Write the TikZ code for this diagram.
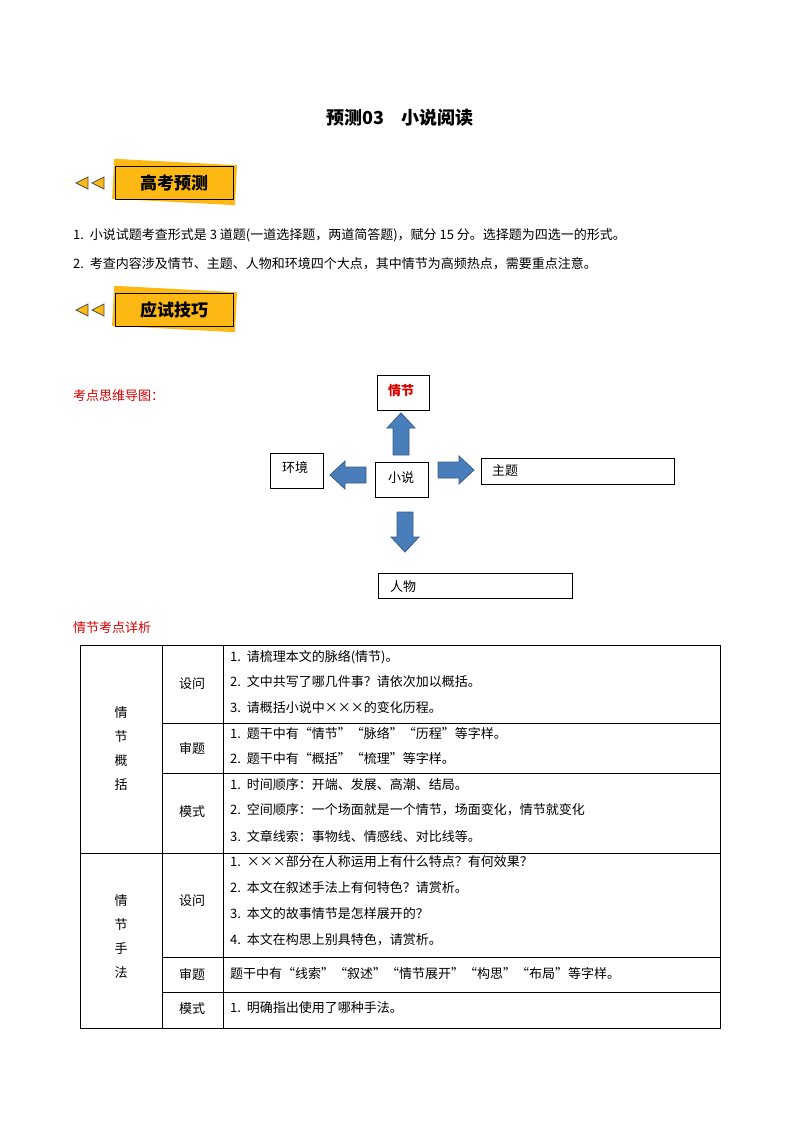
\documentclass[tikz,border=0pt]{standalone}
\usepackage{fontspec}
\setmainfont{Liberation Serif}
\newfontfamily\cjk{Noto Sans CJK SC}
\definecolor{bancol}{HTML}{FDB813}
\definecolor{arr}{HTML}{4A7EBB}
\definecolor{arrd}{HTML}{385D8A}
\newcommand{\blkarrow}[5]{% name x y angle length
  \begin{scope}[shift={(#2,#3)},rotate=#4]
  \coordinate (#1) at (0,0);
  \filldraw[fill=arr,draw=arrd,thick] (-#5/2,-8) -- (#5/2-15,-8) -- (#5/2-15,-14) -- (#5/2,0) -- (#5/2-15,14) -- (#5/2-15,8) -- (-#5/2,8) -- cycle;
  \end{scope}}
\begin{document}
\begin{tikzpicture}[x=1pt,y=-1pt,
  every node/.style={font=\cjk\fontsize{13}{15}\selectfont},
  banfont/.style={font=\cjk\bfseries\fontsize{17}{19}\selectfont},
  txt/.style={anchor=west,inner sep=0},
  red/.style={text=red!85!black}]
\useasboundingbox (0,0) rectangle (800,1132);
% title
\node[font=\cjk\bfseries\fontsize{18}{20}\selectfont] (title) at (400,118) {预测03\quad 小说阅读};
% banners
\foreach \y/\t/\n in {183/高考预测/b1,310/应试技巧/b2}{
  \fill[bancol,rotate around={-3:(175,\y)}] (113,\y-21) rectangle (236,\y+19);
  \node[draw,thick,fill=bancol,minimum width=118pt,minimum height=33pt,banfont] (\n) at (174,\y) {\t};
  \filldraw[fill=bancol,draw=black!70,thick] (76,\y) -- (88,\y-6) -- (88,\y+6) -- cycle;
  \filldraw[fill=bancol,draw=black!70,thick] (92,\y) -- (104,\y-6) -- (104,\y+6) -- cycle;
}
\node[txt] (l1) at (73,235) {1.\ \ 小说试题考查形式是 3 道题(一道选择题，两道简答题)，赋分 15 分。选择题为四选一的形式。};
\node[txt] (l2) at (73,264) {2.\ \ 考查内容涉及情节、主题、人物和环境四个大点，其中情节为高频热点，需要重点注意。};
\node[txt,red] (l3) at (73,396) {考点思维导图：};
% mind map
\draw[thick] (377,375) rectangle (429,410); \node[red,font=\cjk\bfseries\fontsize{13}{15}\selectfont] (qj) at (401,391) {情节};
\draw[thick] (270,453) rectangle (323,488); \node (hj) at (295,468) {环境};
\draw[thick] (375,462) rectangle (428,497); \node (xs) at (401,478) {小说};
\draw[thick] (481,458) rectangle (674,484); \node[txt] (zt) at (492,471) {主题};
\draw[thick] (378,573) rectangle (572,598); \node[txt] (rw) at (390,587) {人物};
\blkarrow{au}{401}{434}{90}{42}
\blkarrow{al}{348}{475}{180}{36}
\blkarrow{ar}{456}{470}{0}{36}
\blkarrow{ad}{405}{532}{-90}{40}
% table
\node[txt,red] (l4) at (73,628) {情节考点详析};
\draw[thick] (80,645) rectangle (720,1028);
\draw (80,853) -- (720,853);
\draw (162,645) -- (162,1028); \draw (223,645) -- (223,1028);
\foreach \y in {723,773,957,992} \draw (162,\y) -- (720,\y);
\node[align=center] (c1) at (121,749) {情\\[9pt]节\\[9pt]概\\[9pt]括};
\node[align=center] (c2) at (121,937) {情\\[9pt]节\\[9pt]手\\[9pt]法};
\node (s1) at (192,684) {设问}; \node (s2) at (192,748) {审题}; \node (s3) at (192,812) {模式};
\node (s4) at (192,901) {设问}; \node (s5) at (192,974) {审题}; \node (s6) at (192,1009) {模式};
\node[txt] at (230,657) {1.\ \ 请梳理本文的脉络(情节)。};
\node[txt] at (230,682) {2.\ \ 文中共写了哪几件事？请依次加以概括。};
\node[txt] at (230,708) {3.\ \ 请概括小说中×××的变化历程。};
\node[txt] at (230,733) {1.\ \ 题干中有“情节”“脉络”“历程”等字样。};
\node[txt] at (230,759) {2.\ \ 题干中有“概括”“梳理”等字样。};
\node[txt] at (230,785) {1.\ \ 时间顺序：开端、发展、高潮、结局。};
\node[txt] at (230,810) {2.\ \ 空间顺序：一个场面就是一个情节，场面变化，情节就变化};
\node[txt] at (230,836) {3.\ \ 文章线索：事物线、情感线、对比线等。};
\node[txt] at (230,862) {1.\ \ ×××部分在人称运用上有什么特点？有何效果？};
\node[txt] at (230,888) {2.\ \ 本文在叙述手法上有何特色？请赏析。};
\node[txt] at (230,914) {3.\ \ 本文的故事情节是怎样展开的？};
\node[txt] at (230,940) {4.\ \ 本文在构思上别具特色，请赏析。};
\node[txt] at (230,974) {题干中有“线索”“叙述”“情节展开”“构思”“布局”等字样。};
\node[txt] at (230,1008) {1.\ \ 明确指出使用了哪种手法。};
\end{tikzpicture}
\end{document}
